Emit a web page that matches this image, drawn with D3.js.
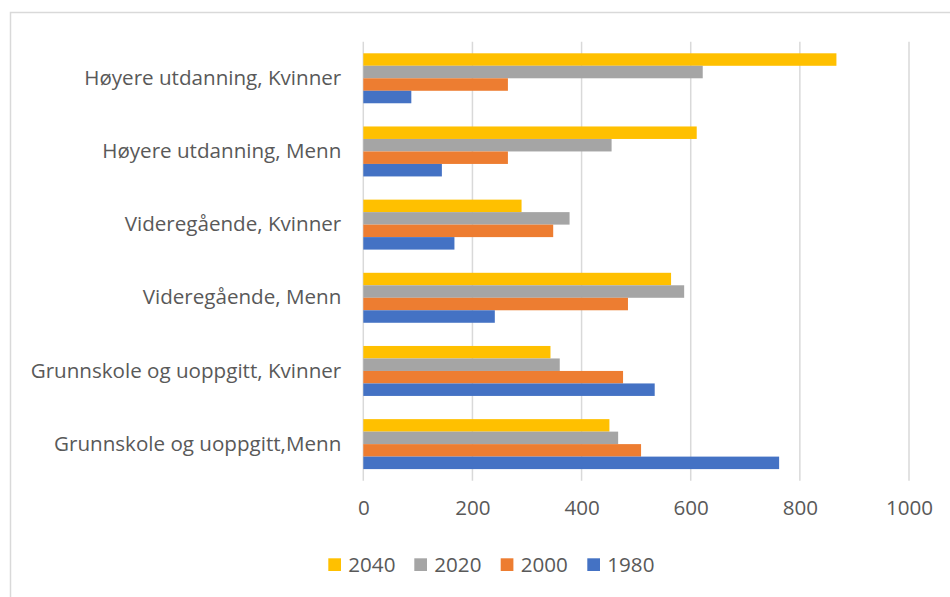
<!DOCTYPE html>
<html>
<head>
<meta charset="utf-8">
<script src="https://cdn.jsdelivr.net/npm/d3@7"></script>
<style>
  body { margin: 0; background: #fff; }
  text { font-family: "Open Sans", "Noto Sans", sans-serif; fill: #595959; }
</style>
</head>
<body>
<svg id="chart" width="950" height="597"></svg>
<script>
// categories top to bottom
var categories = [
  "Høyere utdanning, Kvinner",
  "Høyere utdanning, Menn",
  "Videregående, Kvinner",
  "Videregående, Menn",
  "Grunnskole og uoppgitt, Kvinner",
  "Grunnskole og uoppgitt,Menn"
];

// series in legend order (also top to bottom inside each group)
var years = ["2040", "2020", "2000", "1980"];
var colors = ["#FFC000", "#A5A5A5", "#ED7D31", "#4472C4"];

var values2040 = [867, 611, 290, 564, 343, 451];
var values2020 = [622, 455, 378, 588, 360, 467];
var values2000 = [265, 265, 348, 485, 476, 509];
var values1980 = [88, 144, 167, 241, 534, 762];

var xTicks = [0, 200, 400, 600, 800, 1000];

var seriesValues = [values2040, values2020, values2000, values1980];

var labelFont = "20.6px";

var svg = d3.select("#chart");

// chart area border (cropped at right and bottom like the original)
svg.append("path")
  .attr("d", "M10.5,597 L10.5,12.5 L950,12.5")
  .attr("fill", "none")
  .attr("stroke", "#d9d9d9")
  .attr("stroke-width", 1.5);

var plot = { left: 363.3, right: 909, top: 41.7, bottom: 480.7 };

var x = d3.scaleLinear().domain([0, 1000]).range([plot.left, plot.right]);

var y = d3.scaleBand()
  .domain(categories)
  .range([plot.top, plot.bottom])
  .paddingInner(0.317)
  .paddingOuter(0.1585);

var ySub = d3.scaleBand()
  .domain(years)
  .range([0, y.bandwidth()]);

// gridlines
svg.append("g")
  .selectAll("line")
  .data(xTicks)
  .enter()
  .append("line")
  .attr("x1", function (d) { return x(d); })
  .attr("x2", function (d) { return x(d); })
  .attr("y1", plot.top)
  .attr("y2", plot.bottom)
  .attr("stroke", "#d9d9d9")
  .attr("stroke-width", 1.5);

// bars
var rows = [];
categories.forEach(function (c, i) {
  years.forEach(function (yr, j) {
    rows.push({ cat: c, year: yr, value: seriesValues[j][i], color: colors[j] });
  });
});

svg.append("g")
  .selectAll("rect")
  .data(rows)
  .enter()
  .append("rect")
  .attr("x", x(0))
  .attr("y", function (d) { return y(d.cat) + ySub(d.year); })
  .attr("width", function (d) { return x(d.value) - x(0); })
  .attr("height", ySub.bandwidth())
  .attr("fill", function (d) { return d.color; });

// x axis labels
var xAxis = d3.axisBottom(x).tickValues(xTicks).tickFormat(d3.format("d")).tickSize(0).tickPadding(0);
var gx = svg.append("g")
  .attr("transform", "translate(0,500)")
  .call(xAxis);
gx.select(".domain").remove();
gx.selectAll("text")
  .attr("dy", "0.71em")
  .style("font-size", labelFont)
  .style("fill", "#595959")
  .style("font-family", "'Open Sans', 'Noto Sans', sans-serif");

// category labels
var yAxis = d3.axisLeft(y).tickSize(0).tickPadding(22);
var gy = svg.append("g")
  .attr("transform", "translate(" + plot.left + ",0)")
  .call(yAxis);
gy.select(".domain").remove();
gy.selectAll("text")
  .style("font-size", labelFont)
  .style("fill", "#595959")
  .style("font-family", "'Open Sans', 'Noto Sans', sans-serif");

// legend
var legendX = d3.scaleOrdinal().domain(years).range([328.3, 414.3, 500.7, 587.3]);
var legend = svg.append("g")
  .selectAll("g")
  .data(years)
  .enter()
  .append("g")
  .attr("transform", function (d) { return "translate(" + legendX(d) + ",558.3)"; });

legend.append("rect")
  .attr("width", 12.7)
  .attr("height", 12.7)
  .attr("fill", function (d, i) { return colors[i]; });

legend.append("text")
  .attr("x", 20)
  .attr("y", 6.4)
  .attr("dy", "0.35em")
  .style("font-size", labelFont)
  .text(function (d) { return d; });
</script>
</body>
</html>
